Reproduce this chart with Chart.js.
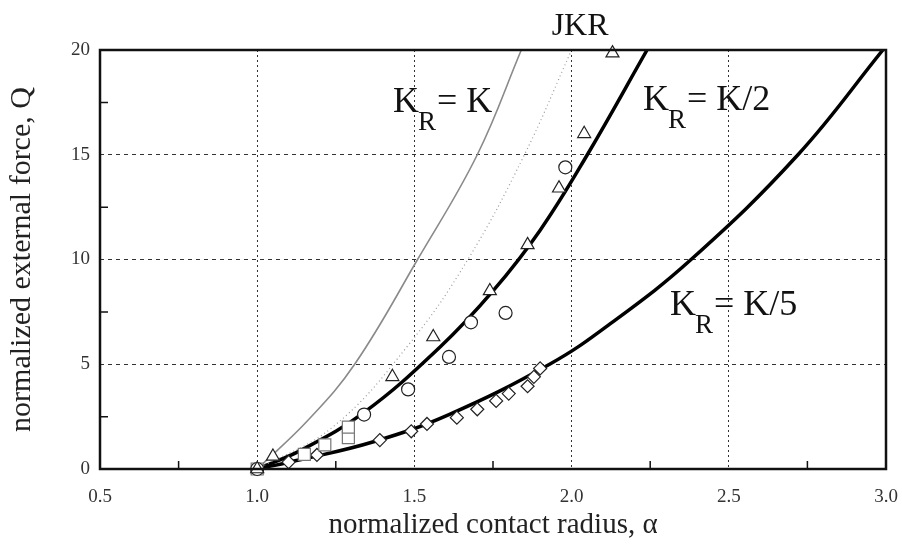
<!DOCTYPE html>
<html>
<head>
<meta charset="utf-8">
<script src="https://cdn.jsdelivr.net/npm/chart.js@4.4.1/dist/chart.umd.min.js"></script>
<style>
  body { margin: 0; background: #fff; }
  #wrap { width: 902px; height: 556px; }
</style>
</head>
<body>
<div id="wrap"><canvas id="chart"></canvas></div>
<script>
// Curves (alpha = contact radius, Q = external force)
const kAlpha = [1.0, 1.16, 1.31, 1.51, 1.70, 1.84];
const kQ     = [0, 2.3, 5.0, 10.0, 15.0, 20.0];

const jkrAlpha = [1.0, 1.24, 1.48, 1.67, 1.85, 2.0];
const jkrQ     = [0, 2.0, 5.9, 10.0, 15.0, 20.0];

const k2Alpha = [1.0, 1.14, 1.34, 1.58, 1.75, 1.90, 2.05, 2.24];
const k2Q     = [0, 0.9, 2.7, 5.8, 8.5, 11.4, 15.0, 20.0];

const k5Alpha = [1.0, 1.14, 1.37, 1.61, 1.93, 2.12, 2.38, 2.72, 2.99];
const k5Q     = [0, 0.45, 1.3, 2.6, 5.0, 6.9, 10.0, 15.0, 20.0];

// Measured points
const triAlpha = [1.0, 1.05, 1.43, 1.56, 1.74, 1.86, 1.96, 2.04, 2.13];
const triQ     = [0, 0.6, 4.4, 6.3, 8.5, 10.7, 13.4, 16.0, 19.85];

const circAlpha = [1.0, 1.34, 1.48, 1.61, 1.68, 1.79, 1.98];
const circQ     = [0, 2.6, 3.8, 5.35, 7.0, 7.45, 14.4];

const sqAlpha = [1.0, 1.15, 1.215, 1.29, 1.29];
const sqQ     = [0, 0.7, 1.15, 1.5, 2.0];

const diaAlpha = [1.0, 1.10, 1.19, 1.39, 1.49, 1.54, 1.635, 1.70, 1.76, 1.80, 1.86, 1.88, 1.90];
const diaQ     = [0, 0.33, 0.67, 1.38, 1.8, 2.15, 2.45, 2.85, 3.25, 3.6, 3.95, 4.4, 4.8];

// Axis ticks
const minorX = [0.75, 1.25, 1.75, 2.25, 2.75];
const minorY = [2.5, 7.5, 12.5, 17.5];

const SERIF = '"Liberation Serif", "Times New Roman", serif';

function pts(xs, ys) {
    return xs.map((x, i) => ({ x: x, y: ys[i] }));
}

function curve(label, xs, ys, color, width, dash) {
    return {
        label: label,
        data: pts(xs, ys),
        showLine: true,
        borderColor: color,
        borderWidth: width,
        borderDash: dash || [],
        pointRadius: 0,
        tension: 0.4,
        order: 2
    };
}

function marks(label, xs, ys, style, radius, color) {
    return {
        label: label,
        data: pts(xs, ys),
        showLine: false,
        pointStyle: style,
        pointRadius: radius,
        pointBorderColor: color,
        pointBackgroundColor: '#fff',
        pointBorderWidth: 1.2,
        clip: false,
        order: 1
    };
}

// frame, minor ticks and curve labels
const decorations = {
    id: 'decorations',
    afterDatasetsDraw(chart) {
        const { ctx, chartArea: a, scales: { x, y } } = chart;
        ctx.save();
        ctx.strokeStyle = '#111';
        ctx.lineWidth = 1.5;
        ctx.beginPath();
        minorX.forEach(v => {
            const px = x.getPixelForValue(v);
            ctx.moveTo(px, a.bottom);
            ctx.lineTo(px, a.bottom - 8);
        });
        minorY.forEach(v => {
            const py = y.getPixelForValue(v);
            ctx.moveTo(a.left, py);
            ctx.lineTo(a.left + 8, py);
        });
        ctx.stroke();
        ctx.lineWidth = 2.5;
        ctx.strokeRect(a.left, a.top, a.right - a.left, a.bottom - a.top);
        ctx.restore();
    },
    afterDraw(chart) {
        const { ctx, scales: { x, y } } = chart;
        ctx.save();
        ctx.fillStyle = '#111';
        ctx.textBaseline = 'alphabetic';

        function krLabel(rest, alpha, q) {
            let px = x.getPixelForValue(alpha);
            const py = y.getPixelForValue(q);
            ctx.font = '36px ' + SERIF;
            ctx.textAlign = 'left';
            ctx.fillText('K', px, py);
            px += ctx.measureText('K').width - 1;
            ctx.font = '27px ' + SERIF;
            ctx.fillText('R', px, py + 18);
            px += ctx.measureText('R').width + 1;
            ctx.font = '36px ' + SERIF;
            ctx.fillText(rest, px, py);
        }
        krLabel('= K', 1.432, 17.04);
        krLabel('= K/2', 2.227, 17.14);
        krLabel('= K/5', 2.313, 7.35);

        ctx.font = '32px ' + SERIF;
        ctx.textAlign = 'center';
        ctx.fillText('JKR', x.getPixelForValue(2.027), y.getPixelForValue(20.72));
        ctx.restore();
    }
};

const ctx = document.getElementById('chart').getContext('2d');
const chart = new Chart(ctx, {
    type: 'scatter',
    data: {
        datasets: [
            marks('triangles', triAlpha, triQ, 'triangle', 7.5, '#222'),
            marks('circles', circAlpha, circQ, 'circle', 6.5, '#222'),
            marks('squares', sqAlpha, sqQ, 'rect', 8.5, '#777'),
            marks('diamonds', diaAlpha, diaQ, 'rectRot', 6.5, '#222'),
            curve('K_R = K', kAlpha, kQ, '#8a8a8a', 1.6),
            curve('JKR', jkrAlpha, jkrQ, '#999', 1.2, [1, 3]),
            curve('K_R = K/2', k2Alpha, k2Q, '#000', 3.5),
            curve('K_R = K/5', k5Alpha, k5Q, '#000', 3.5)
        ]
    },
    options: {
        responsive: true,
        maintainAspectRatio: false,
        animation: false,
        layout: { padding: { top: 50, right: 16, left: 0, bottom: 0 } },
        plugins: {
            legend: { display: false },
            tooltip: { enabled: false }
        },
        scales: {
            x: {
                type: 'linear',
                min: 0.5,
                max: 3.0,
                afterFit: s => {
                    s.height = 87;
                    s.paddingLeft = 0;
                    s.paddingRight = 0;
                },
                ticks: {
                    stepSize: 0.5,
                    padding: 17,
                    color: '#333',
                    font: { family: SERIF, size: 19 },
                    callback: v => v.toFixed(1)
                },
                grid: { color: '#333', lineWidth: 1, drawTicks: false },
                border: { display: false, dash: [2, 3] },
                title: {
                    display: true,
                    text: 'normalized contact radius, \u03b1',
                    color: '#222',
                    font: { family: SERIF, size: 29 },
                    padding: { top: 0, bottom: 13 }
                }
            },
            y: {
                type: 'linear',
                min: 0,
                max: 20,
                afterFit: s => {
                    s.width = 100;
                    s.paddingTop = 0;
                    s.paddingBottom = 0;
                },
                ticks: {
                    stepSize: 5,
                    padding: 10,
                    color: '#333',
                    font: { family: SERIF, size: 19 }
                },
                grid: { color: '#333', lineWidth: 1, drawTicks: false },
                border: { display: false, dash: [4, 4] },
                title: {
                    display: true,
                    text: 'normalized external force, Q',
                    color: '#222',
                    font: { family: SERIF, size: 30 },
                    padding: { top: 4, bottom: 0 }
                }
            }
        }
    },
    plugins: [decorations]
});
</script>
</body>
</html>
